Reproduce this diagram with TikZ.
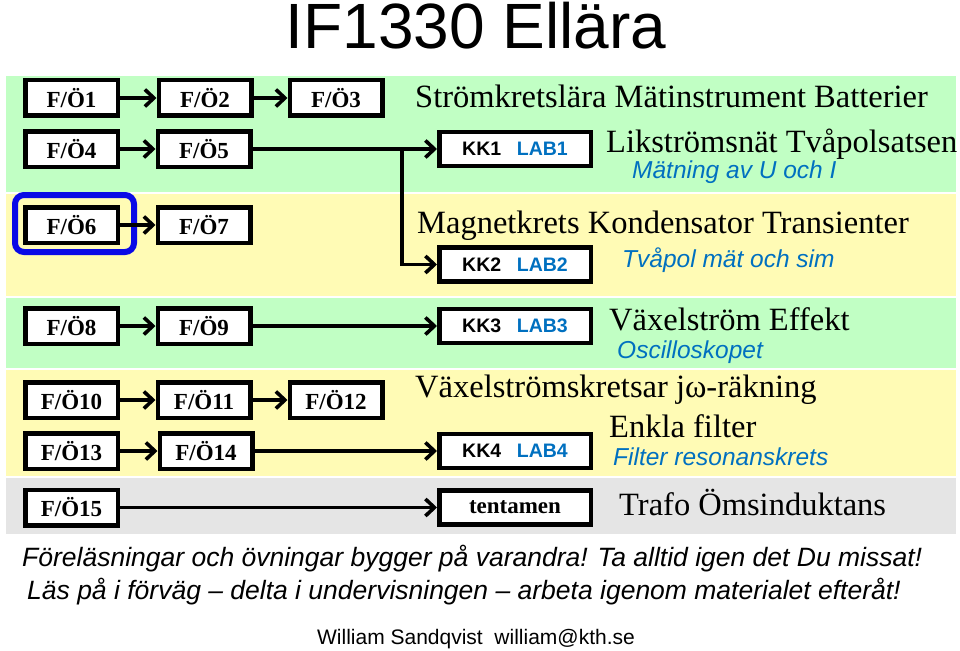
\documentclass[tikz,border=0pt]{standalone}
\usepackage{fontspec}
\setmainfont{Liberation Serif}
\setsansfont{Liberation Sans}
\usetikzlibrary{arrows.meta}
\definecolor{bandgreen}{RGB}{193,255,196}
\definecolor{bandyellow}{RGB}{255,251,181}
\definecolor{bandgray}{RGB}{229,229,229}
\definecolor{labblue}{RGB}{0,112,192}
\definecolor{markblue}{RGB}{10,10,230}
\newcommand{\fsz}[1]{\fontsize{#1}{#1}\selectfont}
\begin{document}
\begin{tikzpicture}[x=1pt,y=-1pt,>={Straight Barb[length=9pt,width=17pt]},
  lect/.style={draw,line width=4.5pt,fill=white,minimum width=92.5pt,minimum height=35.5pt,inner sep=0pt,font=\fsz{23}\bfseries},
  kk/.style={lect,minimum width=151.5pt,minimum height=34pt,font=\fsz{19.5}\sffamily\bfseries},
  link/.style={->,line width=3.6pt},
  topic/.style={anchor=base west,inner sep=0pt,font=\fsz{32.5}},
  note/.style={anchor=base west,inner sep=0pt,text=labblue,font=\fsz{24.5}\sffamily\itshape}]
\useasboundingbox (0,0) rectangle (960,650);
% bands
\fill[bandgreen] (6,76) rectangle (956,192);
\fill[bandyellow] (6,194) rectangle (956,296);
\fill[bandgreen] (6,298) rectangle (956,368);
\fill[bandyellow] (6,370) rectangle (956,476);
\fill[bandgray] (6,478) rectangle (956,534);
\node[anchor=base,inner sep=0pt,font=\fsz{64}\sffamily] (title) at (476,49) {IF1330 Ellära};

% lectures
\node[lect] (F1) at (71.5,98) {F/Ö1};
\node[lect] (F2) at (205,98) {F/Ö2};
\node[lect] (F3) at (336,98) {F/Ö3};
\node[lect] (F4) at (71.5,149) {F/Ö4};
\node[lect] (F5) at (204,149) {F/Ö5};
\node[lect] (F6) at (71.5,225) {F/Ö6};
\node[lect] (F7) at (204,225) {F/Ö7};
\node[lect] (F8) at (71.5,326) {F/Ö8};
\node[lect] (F9) at (204,326) {F/Ö9};
\node[lect] (F10) at (71.5,400) {F/Ö10};
\node[lect] (F11) at (204,400) {F/Ö11};
\node[lect] (F12) at (336,400) {F/Ö12};
\node[lect] (F13) at (71.5,451) {F/Ö13};
\node[lect] (F14) at (206,451) {F/Ö14};
\node[lect] (F15) at (71.5,507.5) {F/Ö15};

% labs
\node[kk] (KK1) at (515,149) {KK1\hspace{0.8em}\textcolor{labblue}{LAB1}};
\node[kk] (KK2) at (515,264.5) {KK2\hspace{0.8em}\textcolor{labblue}{LAB2}};
\node[kk] (KK3) at (515,326) {KK3\hspace{0.8em}\textcolor{labblue}{LAB3}};
\node[kk] (KK4) at (515,451) {KK4\hspace{0.8em}\textcolor{labblue}{LAB4}};
\node[kk,font=\fsz{23}\bfseries] (tenta) at (515,507.5) {tentamen};

\draw[markblue,line width=6pt,rounded corners=9pt] (15,195) rectangle (134,252);

% connectors
\draw[link] (F1) -- (F2);
\draw[link] (F2) -- (F3);
\draw[link] (F4) -- (F5);
\draw[link] (F5) -- (KK1) coordinate[pos=.81] (br);
\draw[link] (br) |- (KK2);
\draw[link] (F6) -- (F7);
\draw[link] (F8) -- (F9);
\draw[link] (F9) -- (KK3);
\draw[link] (F10) -- (F11);
\draw[link] (F11) -- (F12);
\draw[link] (F13) -- (F14);
\draw[link] (F14) -- (KK4);
\draw[link] (F15) -- (tenta);

% topics
\node[topic] (t1) at (415,107) {Strömkretslära Mätinstrument Batterier};
\node[topic] (t2) at (606,152.5) {Likströmsnät Tvåpolsatsen};
\node[note] (n2) at (632,178) {Mätning av U och I};
\node[topic] (t3) at (417,233) {Magnetkrets Kondensator Transienter};
\node[note] (n3) at (622,267) {Tvåpol mät och sim};
\node[topic] (t4) at (609,330) {Växelström Effekt};
\node[note] (n4) at (617,358) {Oscilloskopet};
\node[topic] (t5) at (415,397) {Växelströmskretsar jω-räkning};
\node[topic] (t6) at (609,437) {Enkla filter};
\node[note] (n6) at (613,465) {Filter resonanskrets};
\node[topic] (t7) at (619,515) {Trafo Ömsinduktans};

% footer
\node[anchor=base west,inner sep=0pt,font=\fsz{26.5}\sffamily\itshape] (r1) at (22,566) {Föreläsningar och övningar bygger på varandra! Ta alltid igen det Du missat!};
\node[anchor=base west,inner sep=0pt,font=\fsz{26.5}\sffamily\itshape] (r2) at (27,599) {Läs på i förväg – delta i undervisningen – arbeta igenom materialet efteråt!};
\node[anchor=base,inner sep=0pt,font=\fsz{21}\sffamily] (sign) at (476,644) {William Sandqvist\ \ william@kth.se};
\end{tikzpicture}
\end{document}
